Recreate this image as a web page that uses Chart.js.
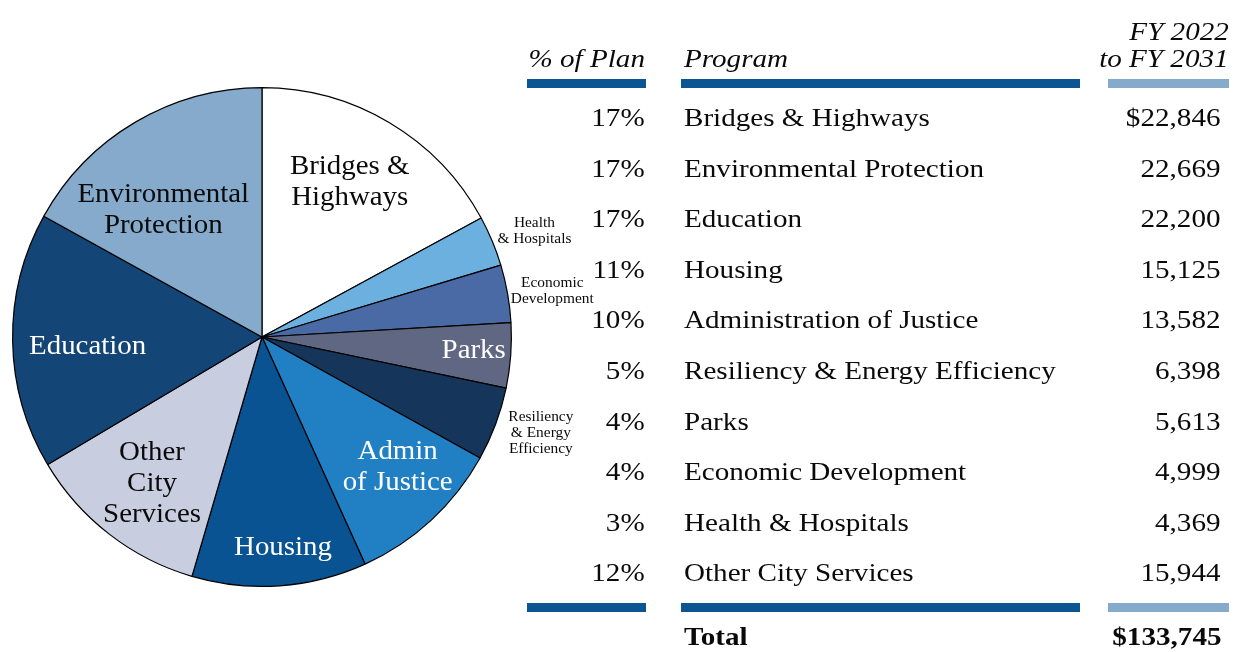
<!DOCTYPE html>
<html>
<head>
<meta charset="utf-8">
<script src="https://cdn.jsdelivr.net/npm/chart.js@4.4.0/dist/chart.umd.min.js"></script>
<style>
    html, body { margin: 0; padding: 0; background: #fff; }
    #wrap {
        position: relative;
        width: 1233px;
        height: 652px;
        overflow: hidden;
        font-family: "Liberation Serif", "Times New Roman", serif;
        color: #0a0a0a;
    }
    #chartPlan { position: absolute; left: 0; top: 0; }
    .t { position: absolute; white-space: nowrap; line-height: 1; }
    .bar { position: absolute; height: 9px; }
</style>
</head>
<body>
<div id="wrap">
    <canvas id="chartPlan" width="1233" height="652"></canvas>
</div>
<script>
// Datos de la tabla (millones de dólares)
const programas = [
    'Bridges & Highways',
    'Environmental Protection',
    'Education',
    'Housing',
    'Administration of Justice',
    'Resiliency & Energy Efficiency',
    'Parks',
    'Economic Development',
    'Health & Hospitals',
    'Other City Services'
];
const montos = [22846, 22669, 22200, 15125, 13582, 6398, 5613, 4999, 4369, 15944];
const porcentajes = ['17%', '17%', '17%', '11%', '10%', '5%', '4%', '4%', '3%', '12%'];
const encabezados = ['% of Plan', 'Program', 'FY 2022', 'to FY 2031'];

// Orden de las porciones del gráfico (en sentido horario desde arriba)
const ordenPie = [
    'Bridges & Highways',
    'Health & Hospitals',
    'Economic Development',
    'Parks',
    'Resiliency & Energy Efficiency',
    'Administration of Justice',
    'Housing',
    'Other City Services',
    'Education',
    'Environmental Protection'
];
const etiquetasPie = [
    ['Bridges &', 'Highways'],
    ['Health', '& Hospitals'],
    ['Economic', 'Development'],
    ['Parks'],
    ['Resiliency', '& Energy', 'Efficiency'],
    ['Admin', 'of Justice'],
    ['Housing'],
    ['Other', 'City', 'Services'],
    ['Education'],
    ['Environmental', 'Protection']
];
const coloresPie = [
    '#ffffff', '#6cb0e0', '#4a6aa5', '#5f6782', '#15355a',
    '#2180c4', '#0a5392', '#c8cde0', '#144577', '#85aacb'
];

// Posición de cada etiqueta: radio relativo, ajuste de ángulo (grados), tamaño, color
const estiloEtiquetas = [
    { r: 0.72, da: -1.5, size: 27, color: '#0a0a0a' },
    { r: 1.175, da: 1, size: 14, color: '#0a0a0a' },
    { r: 1.18, da: 0.6, size: 14, color: '#0a0a0a' },
    { r: 0.85, da: -1.1, size: 27, color: '#fff' },
    { r: 1.18, da: -1.8, size: 14, color: '#0a0a0a' },
    { r: 0.75, da: -3.8, size: 27, color: '#fff' },
    { r: 0.84, da: -1.7, size: 27, color: '#fff' },
    { r: 0.73, da: -0.6, size: 27, color: '#0a0a0a' },
    { r: 0.70, da: -1.7, size: 27, color: '#fff' },
    { r: 0.65, da: -7, size: 27, color: '#0a0a0a' }
];

const valoresPie = ordenPie.map(p => montos[programas.indexOf(p)]);

// Plugin para escribir las etiquetas sobre las porciones
const etiquetasPlugin = {
    id: 'etiquetasPie',
    afterDatasetsDraw(chart) {
        const ctx = chart.ctx;
        const arcs = chart.getDatasetMeta(0).data;
        ctx.save();
        ctx.textAlign = 'center';
        ctx.textBaseline = 'middle';
        arcs.forEach((arc, i) => {
            const p = arc.getProps(['x', 'y', 'startAngle', 'endAngle', 'outerRadius'], true);
            const est = estiloEtiquetas[i];
            const ang = (p.startAngle + p.endAngle) / 2 + est.da * Math.PI / 180;
            const cx = p.x + Math.cos(ang) * p.outerRadius * est.r;
            const cy = p.y + Math.sin(ang) * p.outerRadius * est.r + 2;
            const lineas = etiquetasPie[i];
            const grande = est.size > 20;
            const alto = grande ? 31 : 16;
            const sx = grande ? 1.07 : 1.1;
            ctx.font = est.size + 'px "Liberation Serif", "Times New Roman", serif';
            ctx.fillStyle = est.color;
            lineas.forEach((l, j) => {
                ctx.save();
                ctx.translate(cx, cy + (j - (lineas.length - 1) / 2) * alto);
                ctx.scale(sx, 1);
                ctx.fillText(l, 0, 0);
                ctx.restore();
            });
        });
        ctx.restore();
    }
};

const chartPlan = new Chart(document.getElementById('chartPlan'), {
    type: 'pie',
    data: {
        labels: ordenPie,
        datasets: [{
            data: valoresPie,
            backgroundColor: coloresPie,
            borderColor: '#000',
            borderWidth: 1.2
        }]
    },
    options: {
        responsive: false,
        animation: false,
        devicePixelRatio: 1,
        layout: { padding: { left: 12, top: 87, right: 721, bottom: 65 } },
        plugins: {
            legend: { display: false },
            tooltip: { enabled: false }
        }
    },
    plugins: [etiquetasPlugin]
});

// Tabla de la derecha
const wrap = document.getElementById('wrap');

function texto(str, x, base, align, fs, estilo) {
    const d = document.createElement('div');
    d.className = 't';
    d.textContent = str;
    d.style.fontSize = fs + 'px';
    d.style.top = (base - 0.8375 * fs) + 'px';
    d.style.transform = 'scaleX(1.12)';
    if (align === 'right') {
        d.style.right = (1233 - x) + 'px';
        d.style.transformOrigin = 'right center';
    } else {
        d.style.left = x + 'px';
        d.style.transformOrigin = 'left center';
    }
    if (estilo === 'italic') d.style.fontStyle = 'italic';
    if (estilo === 'bold') d.style.fontWeight = 'bold';
    wrap.appendChild(d);
}

function barra(x1, x2, y, color) {
    const b = document.createElement('div');
    b.className = 'bar';
    b.style.left = x1 + 'px';
    b.style.width = (x2 - x1) + 'px';
    b.style.top = y + 'px';
    b.style.background = color;
    wrap.appendChild(b);
}

const fsTabla = 26;
texto(encabezados[0], 645, 68, 'right', fsTabla, 'italic');
texto(encabezados[1], 684, 68, 'left', fsTabla, 'italic');
texto(encabezados[2], 1229, 41, 'right', fsTabla, 'italic');
texto(encabezados[3], 1229, 68, 'right', fsTabla, 'italic');

barra(527, 646, 79, '#0b5593');
barra(681, 1080, 79, '#0b5593');
barra(1108, 1229, 79, '#85aacb');

programas.forEach((p, i) => {
    const base = 127 + i * 50.55;
    const valor = (i === 0 ? '$' : '') + montos[i].toLocaleString('en-US');
    texto(porcentajes[i], 645, base, 'right', fsTabla);
    texto(p, 684, base, 'left', fsTabla);
    texto(valor, 1220, base, 'right', fsTabla);
});

barra(527, 646, 603, '#0b5593');
barra(681, 1080, 603, '#0b5593');
barra(1108, 1229, 603, '#85aacb');

const total = montos.reduce((a, b) => a + b, 0);
texto('Total', 684, 646, 'left', fsTabla, 'bold');
texto('$' + total.toLocaleString('en-US'), 1221, 646, 'right', fsTabla, 'bold');
</script>
</body>
</html>
